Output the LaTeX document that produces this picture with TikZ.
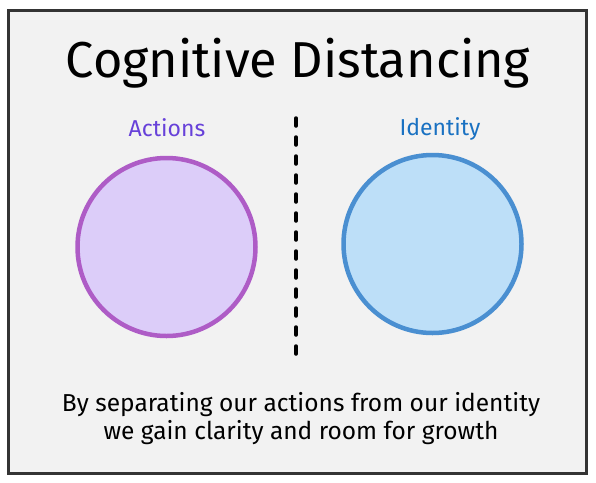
\documentclass[tikz,border=0pt]{standalone}
\usepackage{fontspec}
\setmainfont{Fira Sans}
\definecolor{paper}{HTML}{F2F2F2}
\definecolor{frame}{HTML}{343434}
\definecolor{actfill}{HTML}{DCCDF9}
\definecolor{actline}{HTML}{AE5CC6}
\definecolor{acttext}{HTML}{6741D9}
\definecolor{idfill}{HTML}{BDDFF8}
\definecolor{idline}{HTML}{4A8FD1}
\definecolor{idtext}{HTML}{1971C2}
\begin{document}
\begin{tikzpicture}[x=1pt,y=-1pt,
		blob/.style={circle,line width=4.5pt,minimum size=178pt,inner sep=0pt},
		tag/.style={font=\fontsize{23}{26}\selectfont},
		caption/.style={font=\fontsize{24.5}{28}\selectfont,align=center}]
				\useasboundingbox (0,0) rectangle (596,482);
				\node[draw=frame,fill=paper,line width=3pt,minimum width=578pt,minimum height=463pt,inner sep=0pt] (frame) at (297,241.5) {};
				\node[font=\fontsize{50.5}{54}\selectfont] (title) at (298,63) {Cognitive Distancing};
				\node[tag,text=acttext] (actions) at (167,128) {Actions};
				\node[tag,text=idtext] (identity) at (440,129) {Identity};
				\node[blob,draw=actline,fill=actfill] (act) at (166.5,247) {};
				\node[blob,draw=idline,fill=idfill] (id) at (432.5,244) {};
				\coordinate (top) at (296,118);
				\coordinate (bottom) at (296,362);
				\draw[line width=3.5pt,line cap=round,dash pattern=on 8pt off 11pt] (top) -- (bottom);
				\node[caption] (text) at (301,419) {By separating our actions from our identity\\we gain clarity and room for growth};
\end{tikzpicture}
\end{document}
